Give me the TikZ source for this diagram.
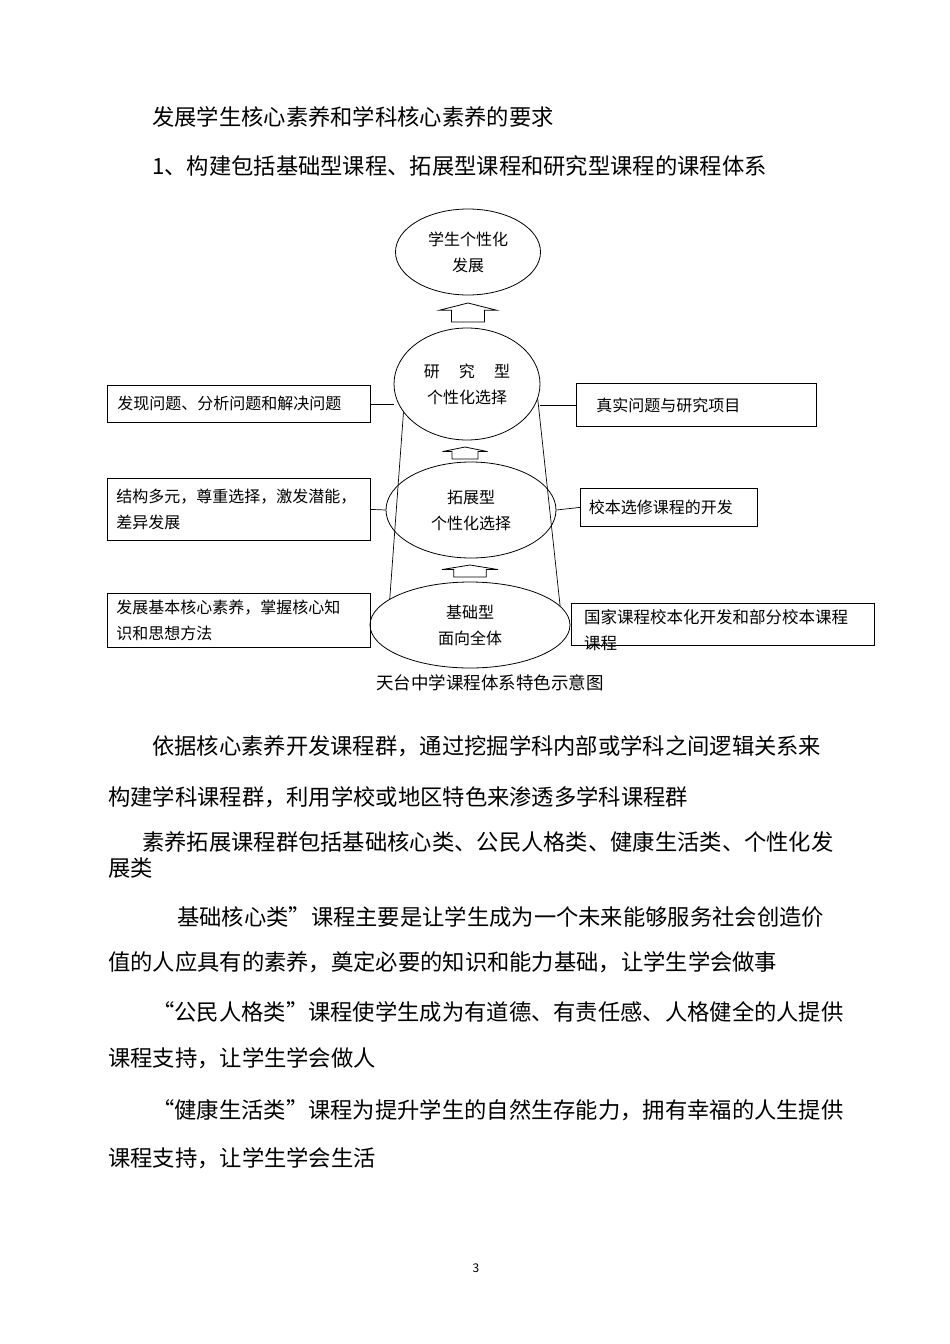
\documentclass[tikz,border=0pt]{standalone}
\usepackage{fontspec}
\usetikzlibrary{shapes.geometric}
\newfontfamily\cjk{Noto Sans CJK SC}
\newcommand{\uparrowblk}[4]{% cx, top y, width, height
  \draw[line width=0.8pt] ({#1-#3/2},{#2+#4*0.38}) -- (#1,#2) -- ({#1+#3/2},{#2+#4*0.38}) -- ({#1+#3*0.29},{#2+#4*0.38}) -- ({#1+#3*0.29},{#2+#4}) -- ({#1-#3*0.29},{#2+#4}) -- ({#1-#3*0.29},{#2+#4*0.38}) -- cycle;}
\begin{document}
\begin{tikzpicture}[x=1pt,y=-1pt,
  body/.style={anchor=west,inner sep=0pt,font=\cjk\fontsize{22.3pt}{24pt}\selectfont},
  ell/.style={draw,ellipse,line width=0.8pt,inner sep=0pt,align=center,font=\cjk\fontsize{16pt}{26pt}\selectfont},
  box/.style={draw,line width=0.8pt,anchor=north west,inner sep=0pt,align=left,font=\cjk\fontsize{16pt}{26pt}\selectfont},
  ln/.style={line width=0.7pt}]
\useasboundingbox[fill=white] (0,0) rectangle (950,1344);
\node[body] (h1) at (152,117) {发展学生核心素养和学科核心素养的要求};
\node[body] (h2) at (152,166) {1、构建包括基础型课程、拓展型课程和研究型课程的课程体系};
% diagram
\node[ell,minimum width=145pt,minimum height=86pt] (top) at (468,252) {学生个性化\\发展};
\node[ell,minimum width=146pt,minimum height=112pt] (res) at (467,384) {研\hspace{1.2em}究\hspace{1.2em}型\\个性化选择};
\node[ell,minimum width=170pt,minimum height=96pt] (exp) at (471,510) {拓展型\\个性化选择};
\node[ell,minimum width=200pt,minimum height=86pt] (bas) at (470,625) {基础型\\面向全体};
\uparrowblk{468}{303}{57}{19}
\uparrowblk{465}{447}{45}{12}
\uparrowblk{470}{565}{56}{12}
\node[box,minimum width=263pt,minimum height=37pt,text width=243pt,inner xsep=10pt] (l1) at (107,385) {发现问题、分析问题和解决问题};
\node[box,minimum width=240pt,minimum height=43pt,text width=200pt,inner xsep=20pt] (r1) at (576,383) {真实问题与研究项目};
\node[box,minimum width=263pt,minimum height=62pt,text width=245pt,inner xsep=9pt] (l2) at (107,478) {结构多元，尊重选择，激发潜能，\\差异发展};
\node[box,minimum width=177pt,minimum height=38pt,text width=160pt,inner xsep=8pt] (r2) at (580,488) {校本选修课程的开发};
\node[box,minimum width=263pt,minimum height=54pt,text width=245pt,inner xsep=9pt] (l3) at (107,593) {发展基本核心素养，掌握核心知\\识和思想方法};
\node[box,minimum width=303pt,minimum height=42pt,inner sep=0pt] (r3) at (571,603) {};
\node[anchor=north west,inner sep=0pt,align=left,font=\cjk\fontsize{16.5pt}{26pt}\selectfont] (r3t) at (584,609) {国家课程校本化开发和部分校本课程\\课程};
\draw[ln] (l1.east) -- (l1.east -| res.west);
\draw[ln] (res.east |- r1.west) -- (r1.west);
\draw[ln] (l2.east) -- (exp.west);
\draw[ln] (exp.east) -- (r2.west);
\draw[ln] (res.204) -- (bas.162);
\draw[ln] (res.-12) -- (bas.12);
\node[inner sep=0pt,font=\cjk\fontsize{17.5pt}{20pt}\selectfont] (cap) at (490,683) {天台中学课程体系特色示意图};
% body
\node[body] (p1) at (152,746) {依据核心素养开发课程群，通过挖掘学科内部或学科之间逻辑关系来};
\node[body] (p2) at (108,797) {构建学科课程群，利用学校或地区特色来渗透多学科课程群};
\node[body] (p3) at (142,842) {素养拓展课程群包括基础核心类、公民人格类、健康生活类、个性化发};
\node[body] (p4) at (108,868) {展类};
\node[body] (p5) at (177,917) {基础核心类”课程主要是让学生成为一个未来能够服务社会创造价};
\node[body] (p6) at (108,962) {值的人应具有的素养，奠定必要的知识和能力基础，让学生学会做事};
\node[body] (p7) at (152,1012) {“公民人格类”课程使学生成为有道德、有责任感、人格健全的人提供};
\node[body] (p8) at (108,1058) {课程支持，让学生学会做人};
\node[body] (p9) at (152,1110) {“健康生活类”课程为提升学生的自然生存能力，拥有幸福的人生提供};
\node[body] (p10) at (108,1158) {课程支持，让学生学会生活};
\node[inner sep=0pt,font=\cjk\fontsize{12pt}{13pt}\selectfont] (pg) at (476,1268) {3};
\end{tikzpicture}
\end{document}
